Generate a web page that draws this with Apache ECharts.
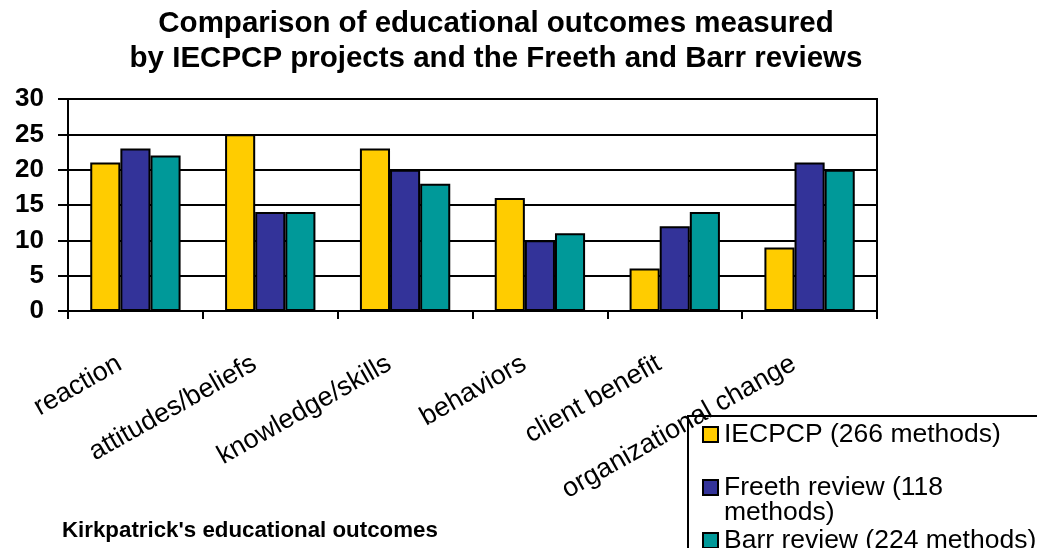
<!DOCTYPE html>
<html>
<head>
<meta charset="utf-8">
<script src="https://cdn.jsdelivr.net/npm/echarts@6/dist/echarts.min.js"></script>
<style>
  html, body { margin: 0; padding: 0; background: #fff; }
  #chart { width: 1037px; height: 548px; }
</style>
</head>
<body>
<div id="chart"></div>
<script>
// Kirkpatrick outcome levels along the category axis
const categories = ['reaction', 'attitudes/beliefs', 'knowledge/skills', 'behaviors', 'client benefit', 'organizational change'];

// Number of methods measuring each outcome level
const iecpcp = [21, 25, 23, 16, 6, 9];
const freeth = [23, 14, 20, 10, 12, 21];
const barr = [22, 14, 18, 11, 14, 20];

const seriesNames = ['IECPCP (266 methods)', 'Freeth review (118\nmethods)', 'Barr review (224 methods)'];
const yTicks = [0, 5, 10, 15, 20, 25, 30];

const titleLines = ['Comparison of educational outcomes measured', 'by IECPCP projects and the Freeth and Barr reviews'];
const axisTitle = "Kirkpatrick's educational outcomes";

const FONT = '"Liberation Sans", Arial, Helvetica, sans-serif';
const colors = ['#FFCC00', '#333399', '#009999'];

const chart = echarts.init(document.getElementById('chart'), null, { renderer: 'canvas' });

function barSeries(name, data, color) {
  return {
    name: name,
    type: 'bar',
    data: data,
    barGap: '0%',
    barCategoryGap: '33%',
    itemStyle: { color: color, borderColor: '#000', borderWidth: 2 },
    emphasis: { disabled: true }
  };
}

chart.setOption({
  backgroundColor: '#fff',
  animation: false,
  title: [
    {
      text: titleLines.join('\n'),
      left: 496,
      top: 0,
      textAlign: 'center',
      padding: [6, 0, 0, 0],
      textStyle: { fontFamily: FONT, fontWeight: 'bold', fontSize: 29.5, lineHeight: 35, color: '#000' }
    },
    {
      text: axisTitle,
      left: 62,
      top: 520,
      padding: 0,
      textStyle: { fontFamily: FONT, fontWeight: 'bold', fontSize: 22.3, color: '#000' }
    }
  ],
  legend: {
    orient: 'vertical',
    left: 688,
    top: 416,
    height: 400,
    padding: [5, 20, 20, 14],
    itemGap: 1,
    itemWidth: 15,
    itemHeight: 15,
    icon: 'rect',
    borderColor: '#000',
    borderWidth: 2,
    backgroundColor: 'transparent',
    selectedMode: false,
    formatter: function (name) {
      // multi-line entries get a blank leading line so the swatch sits on the first line
      return name.indexOf('\n') >= 0 ? '\n' + name : name;
    },
    textStyle: { fontFamily: FONT, fontSize: 26.5, lineHeight: 25, color: '#000', padding: [0, 0, 0, 1] },
    data: seriesNames
  },
  grid: {
    left: 68,
    right: 160,
    top: 99,
    bottom: 237,
    show: true,
    borderColor: '#000',
    borderWidth: 2,
    containLabel: false
  },
  xAxis: {
    type: 'category',
    data: categories,
    axisLine: { show: true, lineStyle: { color: '#000', width: 2 } },
    axisTick: { show: true, length: 8, lineStyle: { color: '#000', width: 2 } },
    axisLabel: {
      interval: 0,
      rotate: 29.5,
      margin: 42,
      padding: [0, 18, 0, 0],
      fontFamily: FONT,
      fontSize: 27,
      color: '#000'
    },
    splitLine: { show: false }
  },
  yAxis: {
    type: 'value',
    min: yTicks[0],
    max: yTicks[yTicks.length - 1],
    interval: 5,
    axisLine: { show: true, lineStyle: { color: '#000', width: 2 } },
    axisTick: { show: true, length: 10, lineStyle: { color: '#000', width: 2 } },
    axisLabel: { margin: 24, fontFamily: FONT, fontWeight: 'bold', fontSize: 26, color: '#000' },
    splitLine: { show: true, lineStyle: { color: '#000', width: 2 } }
  },
  series: [
    barSeries(seriesNames[0], iecpcp, colors[0]),
    barSeries(seriesNames[1], freeth, colors[1]),
    barSeries(seriesNames[2], barr, colors[2])
  ]
});
</script>
</body>
</html>
